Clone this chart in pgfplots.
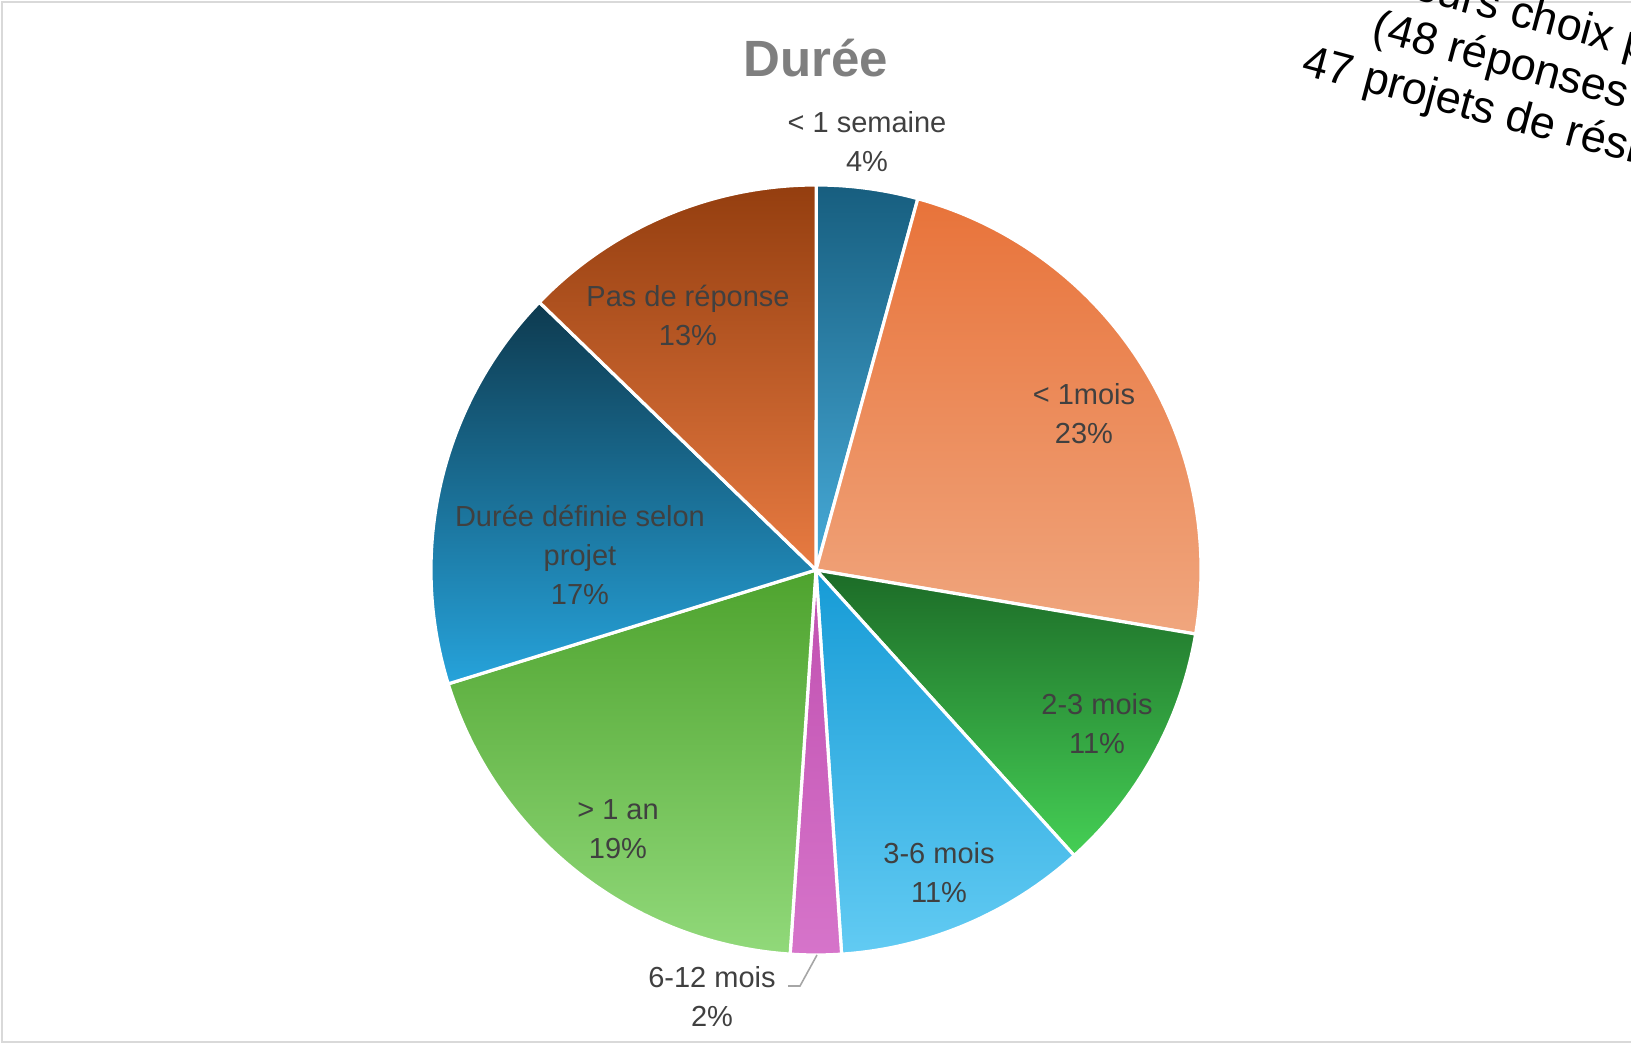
\documentclass[border=0pt]{standalone}
\usepackage{pgfplots}
\pgfplotsset{compat=1.18}
\usepackage{pgfplotstable}
\usepackage{fontspec}
\setmainfont{Liberation Sans}

% slice colours, top and bottom of the vertical gradient
\definecolor{top0}{HTML}{175E7F}\definecolor{bot0}{HTML}{47ABD9}
\definecolor{top1}{HTML}{E8733A}\definecolor{bot1}{HTML}{F0A67E}
\definecolor{top2}{HTML}{1C6B27}\definecolor{bot2}{HTML}{45CF55}
\definecolor{top3}{HTML}{169BD6}\definecolor{bot3}{HTML}{62CBF3}
\definecolor{top4}{HTML}{C050B0}\definecolor{bot4}{HTML}{D674CA}
\definecolor{top5}{HTML}{4EA32E}\definecolor{bot5}{HTML}{91D97A}
\definecolor{top6}{HTML}{0E3A4F}\definecolor{bot6}{HTML}{26A3DB}
\definecolor{top7}{HTML}{943E0F}\definecolor{bot7}{HTML}{E87B42}
\definecolor{labelgray}{HTML}{404040}
\definecolor{titlegray}{HTML}{7F7F7F}
\definecolor{framegray}{HTML}{D9D9D9}
\definecolor{leadergray}{HTML}{A6A6A6}

% shares in percent, clockwise from 12 o'clock
\pgfplotstableread[col sep=comma]{
label,share
< 1 semaine,4.26
< 1mois,23.40
2-3 mois,10.64
3-6 mois,10.64
6-12 mois,2.13
> 1 an,19.15
Duree definie selon projet,17.02
Pas de reponse,12.77
}\duree

% cumulative angles
\def\cum{0}
\pgfplotsforeachungrouped \i in {0,...,7}{%
  \pgfplotstablegetelem{\i}{share}\of\duree
  \pgfmathsetmacro{\sa}{90-3.6*\cum}%
  \pgfmathsetmacro{\cum}{\cum+\pgfplotsretval}%
  \pgfmathsetmacro{\ea}{90-3.6*\cum}%
  \expandafter\xdef\csname sa\i\endcsname{\sa}%
  \expandafter\xdef\csname ea\i\endcsname{\ea}%
}

\begin{document}
\begin{tikzpicture}
\begin{axis}[
  hide axis,
  clip=false,
  x=0.5bp, y=0.5bp,
  xmin=0, xmax=1631,
  ymin=0, ymax=1044,
]
\coordinate (bl) at (axis cs:0,0);
\coordinate (tr) at (axis cs:1631,1044);
\draw[framegray, line width=1bp] (axis cs:2,2) rectangle (axis cs:1680,1042);

\pgfplotsinvokeforeach{0,...,7}{
  \path[draw=white, line width=1.6bp, top color=top#1, bottom color=bot#1]
    (axis cs:816,474) -- ++(\csname sa#1\endcsname:192.5bp)
    arc[start angle=\csname sa#1\endcsname, end angle=\csname ea#1\endcsname, radius=192.5bp]
    -- cycle;
}

\draw[leadergray, line width=0.8bp] (axis cs:788,58) -- (axis cs:800,58) -- (axis cs:817,89);

\tikzset{lab/.style={labelgray, align=center, font=\fontsize{14.5bp}{19.5bp}\selectfont}}
\node[lab] at (axis cs:867,902.5) {< 1 semaine\\4\%};
\node[lab] at (axis cs:1084,630.5) {< 1mois\\23\%};
\node[lab] at (axis cs:1097,320) {2-3 mois\\11\%};
\node[lab] at (axis cs:939,171) {3-6 mois\\11\%};
\node[lab] at (axis cs:712,47.5) {6-12 mois\\2\%};
\node[lab] at (axis cs:618,215) {> 1 an\\19\%};
\node[lab] at (axis cs:580,489) {Durée définie selon\\projet\\17\%};
\node[lab] at (axis cs:688,728.5) {Pas de réponse\\13\%};

\node[titlegray, font=\fontsize{25.5bp}{30bp}\selectfont\bfseries] at (axis cs:816,986) {Durée};

\node[black, rotate=-15, align=center, font=\fontsize{22.5bp}{25.5bp}\selectfont]
  at (axis cs:1550,968) {Plusieurs choix possibles\\(48 réponses pour\\47 projets de résidence)};
\end{axis}
\pgfresetboundingbox
\useasboundingbox (bl) rectangle (tr);
\end{tikzpicture}
\end{document}
